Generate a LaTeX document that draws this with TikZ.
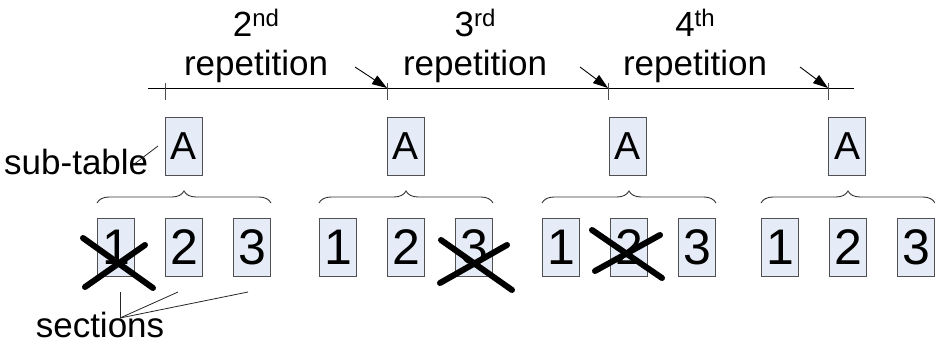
\documentclass[tikz,border=0pt]{standalone}
\usepackage{fontspec}
\setmainfont{Liberation Sans}
\usetikzlibrary{arrows.meta,decorations.pathreplacing}
\definecolor{cellfill}{HTML}{E6ECF7}
\definecolor{celledge}{HTML}{505050}
\begin{document}
\begin{tikzpicture}[x=1pt,y=-1pt,
  cell/.style={draw=celledge,fill=cellfill,line width=1pt,minimum width=37pt,
    minimum height=58pt,inner sep=0pt,anchor=north west},
  numcell/.style={cell,font=\fontsize{50}{50}\selectfont},
  subcell/.style={cell,font=\fontsize{39}{39}\selectfont},
  lbl/.style={font=\fontsize{35}{35}\selectfont,inner sep=0pt,anchor=base},
  grpbrace/.style={draw=black!80,line width=0.9pt,decorate,
    decoration={brace,amplitude=12pt}},
  strike/.style={line width=6pt,line cap=round},
  leader/.style={draw=black!85,line width=0.8pt},
  timeline/.style={line width=1pt},
  tickmark/.style={draw=black!70,line width=0.9pt},
  pointer/.style={line width=0.9pt,-{Triangle[length=15pt,width=10pt]}}
]
\useasboundingbox (0,0) rectangle (935,343);

% time line with repetition boundaries
\coordinate (lstart) at (148,88);
\coordinate (lend) at (854,88);
\draw[timeline] (lstart) -- (lend);
\foreach \i/\x in {1/165,2/387,3/608,4/828}{
  \coordinate (t\i) at (\x,88);
  \draw[tickmark] (\x,83) -- (\x,100);
}

% pointers onto the boundaries
\coordinate (s2) at (355,67);
\coordinate (s3) at (580,67);
\coordinate (s4) at (800,67);
\draw[pointer] (s2) -- (t2);
\draw[pointer] (s3) -- (t3);
\draw[pointer] (s4) -- (t4);

% repetition labels
\node[lbl] (o2) at (256,36) {2\raisebox{9.5pt}{\fontsize{24}{24}\selectfont nd}};
\node[lbl] (r2) at (256,75) {repetition};
\node[lbl] (o3) at (475,36) {3\raisebox{9.5pt}{\fontsize{24}{24}\selectfont rd}};
\node[lbl] (r3) at (475,75) {repetition};
\node[lbl] (o4) at (695,36) {4\raisebox{9.5pt}{\fontsize{24}{24}\selectfont th}};
\node[lbl] (r4) at (695,75) {repetition};

% sub-tables
\node[subcell] (a1) at (165,117) {A};
\node[subcell] (a2) at (387,117) {A};
\node[subcell] (a3) at (609,117) {A};
\node[subcell] (a4) at (828,117) {A};

% sections of each repetition
\foreach \g/\x in {1/97,2/319,3/542,4/761}{
  \node[numcell] (b\g1) at (\x,218) {1};
  \node[numcell] (b\g2) at (\x+68,218) {2};
  \node[numcell] (b\g3) at (\x+136,218) {3};
  \draw[grpbrace] ([yshift=15pt]b\g1.north west) -- ([yshift=15pt]b\g3.north east);
}

% lost sections
\draw[strike] (83,238) -- (153,288);
\draw[strike] (85,287) -- (145,245);
\draw[strike] (441,240) -- (512,290);
\draw[strike] (440,283) -- (507,245);
\draw[strike] (592,230) -- (662,278);
\draw[strike] (595,271) -- (660,235);

% annotations
\node[lbl,anchor=base west] (subtab) at (4,174) {sub-table};
\coordinate (subtip) at (133,165);
\coordinate (subend) at (158,146);
\draw[leader] (subtip) -- (subend);

\node[lbl] (sect) at (100,337) {sections};
\coordinate (sroot) at (120,318);
\coordinate (sp1) at (120,292);
\coordinate (sp2) at (178,292);
\coordinate (sp3) at (248,292);
\draw[leader] (sroot) -- (sp1);
\draw[leader] (sroot) -- (sp2);
\draw[leader] (sroot) -- (sp3);
\end{tikzpicture}
\end{document}
